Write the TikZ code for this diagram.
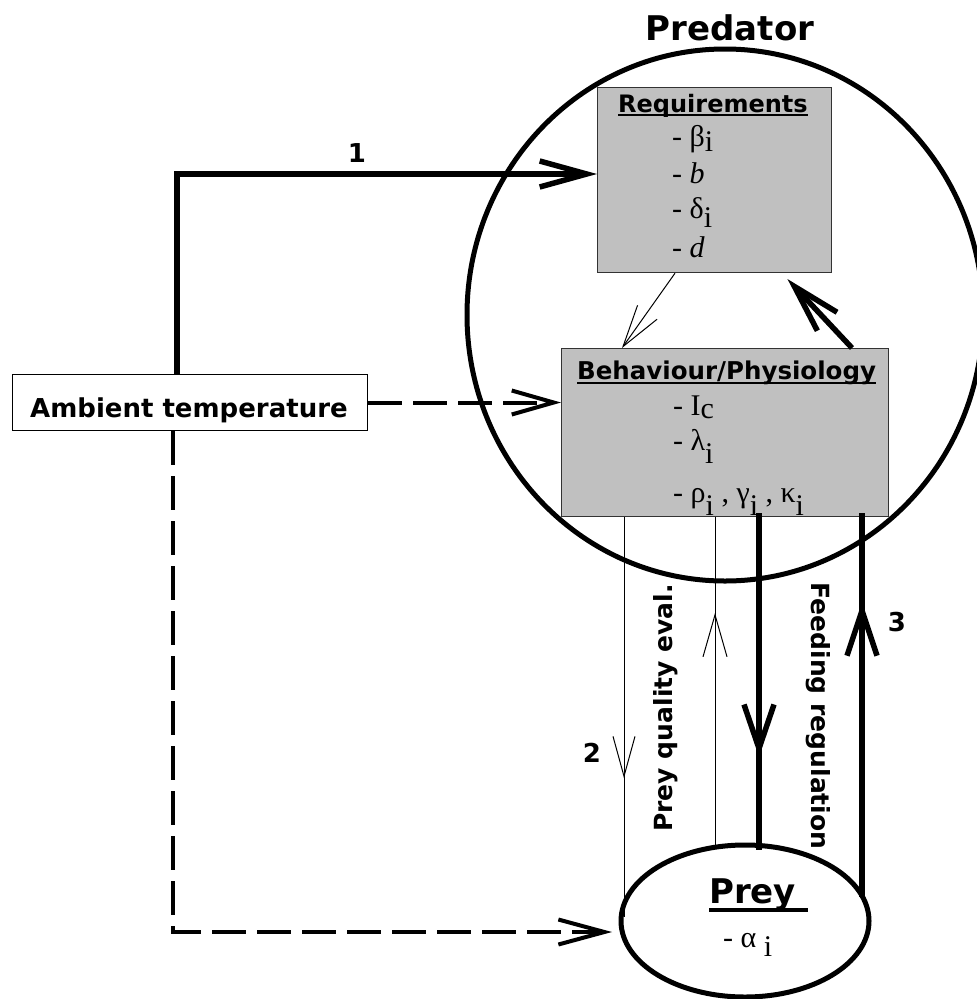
\documentclass[tikz,border=0pt]{standalone}
\usepackage{fontspec}
\setmainfont{Liberation Serif}
\newfontfamily\hdfont{DejaVu Sans}
\newfontfamily\itemfont{Liberation Serif}
\usetikzlibrary{arrows.meta,shapes.geometric,decorations.markings}
\definecolor{panelgray}{HTML}{C0C0C0}

% bold sans heading text at a given size
\newcommand\hd[2]{{\fontsize{#1}{#1}\hdfont\bfseries #2}}
% serif list entry
\newcommand\entry[1]{{\itemfont\fontsize{30}{30}\selectfont #1}}
% lowered index letter
\newcommand\lowered[2]{\raisebox{-#1pt}{#2}}
% underline: #1 offset of rule bottom below baseline, #2 rule thickness, #3 text
\newcommand\undl[3]{\setbox0=\hbox{#3}\rlap{\rule[-#1]{\wd0}{#2}}\box0}

\tikzset{
  thickline/.style={line width=5.5pt},
  dashline/.style={line width=4pt, dash pattern=on 34pt off 11pt},
  thinline/.style={line width=1pt},
  panel/.style={draw=black!80, line width=1.2pt, fill=panelgray, inner sep=0pt, anchor=north west},
  item/.style={anchor=base west, inner sep=0pt},
  lbl/.style={inner sep=0pt},
  midarrow/.style args={#1 at #2}{postaction={decorate}, decoration={markings, mark=at position #2 with {\arrow{#1}}}}
}

\begin{document}
\begin{tikzpicture}[x=1pt, y=-1pt]
  \useasboundingbox (0,0) rectangle (977,999);

  % predator outline and title
  \node[draw, ellipse, line width=5pt, minimum width=516pt, minimum height=532pt, inner sep=0pt] (pred) at (725,315) {};
  \node[anchor=base, lbl] (predT) at (730,40) {\hd{34}{Predator}};

  % requirements panel
  \node[panel, minimum width=234pt, minimum height=185pt] (req) at (597,87) {};
  \node[anchor=base west, lbl] (reqT) at (618,112) {\hd{24}{\undl{4.2pt}{2.5pt}{Requirements}}};
  \node[item] (r1) at (672,146) {\entry{- β\lowered{5}{i}}};
  \node[item] (r2) at (672,183) {\entry{- \textit{b}}};
  \node[item] (r3) at (672,218) {\entry{- δ\lowered{9}{i}}};
  \node[item] (r4) at (672,257) {\entry{- \textit{d}}};

  % behaviour / physiology panel
  \node[panel, minimum width=327pt, minimum height=168pt] (beh) at (561,348) {};
  \node[anchor=base west, lbl] (behT) at (577,379) {\hd{24.5}{\undl{5.2pt}{2.5pt}{Behaviour/Physiology}}};
  \node[item] (b1) at (673,415) {\entry{- I\lowered{3}{c}}};
  \node[item] (b2) at (673,450) {\entry{- λ\lowered{13}{i}}};
  \node[item] (b3) at (673,502) {\entry{- ρ\lowered{13}{i} ,\ γ\lowered{13}{i} , κ\lowered{13}{i}}};

  % ambient temperature box
  \node[draw, line width=1pt, fill=white, anchor=north west, minimum width=355pt, minimum height=56pt, inner sep=0pt] (amb) at (12,374) {};
  \node[anchor=base west, lbl] (ambT) at (30,417) {\hd{26}{Ambient temperature}};

  % prey
  \node[draw, ellipse, line width=5pt, minimum width=248pt, minimum height=152pt, inner sep=0pt] (prey) at (745,921) {};
  \node[anchor=base west, lbl] (preyT) at (709,903) {\hd{34}{\undl{9pt}{4pt}{Prey\ }}};
  \node[item] (p1) at (723,947) {\entry{- α \lowered{9}{i}}};

  % connector end points on the prey outline
  \coordinate (pA) at (624,917);
  \coordinate (pB) at (715,848);
  \coordinate (pC) at (759,850);
  \coordinate (pD) at (862,897);
  \coordinate (pE) at (612,932);

  % 1: temperature -> requirements
  \draw[thickline, -{Straight Barb[length=47pt,width=26pt]}] (amb.north -| 177,0) |- (req.west |- 0,174);
  \node[lbl] (n1) at (357,153) {\hd{26}{1}};

  % temperature -> behaviour, temperature -> prey
  \draw[dashline, -{Straight Barb[length=42pt,width=24pt]}] (amb.east) -- (beh.west |- amb.east);
  \draw[dashline, -{Straight Barb[length=46pt,width=25pt]}] (amb.south -| 173,0) |- (pE);

  % requirements <-> behaviour
  \draw[thinline, -{Straight Barb[length=42pt,width=24pt]}] (req.south -| 675,0) -- (beh.north -| 622,0);
  \draw[thickline, shorten >=8pt, -{Straight Barb[length=48pt,width=27pt]}] (beh.north -| 852,0) -- (req.south -| 782,0);

  % 2: prey quality evaluation
  \draw[thinline, midarrow={Straight Barb[length=40pt,width=22pt]} at 261pt] (beh.south -| 624,0) -- (pA);
  \draw[thinline, midarrow={Straight Barb[length=42pt,width=24pt]} at 235pt] (pB) -- (beh.south -| 715,0);
  \node[lbl] (n2) at (592,753) {\hd{26}{2}};
  \node[lbl, rotate=90] (pq) at (666,708) {\hd{25}{Prey quality eval.}};

  % 3: feeding regulation
  \draw[thickline, midarrow={Straight Barb[length=44pt,width=30pt]} at 244pt] (759,513) -- (pC);
  \draw[thickline, midarrow={Straight Barb[length=45pt,width=30pt]} at 295pt] (pD) -- (862,513);
  \node[lbl] (n3) at (897,622) {\hd{26}{3}};
  \node[lbl, rotate=-90] (fr) at (818,716) {\hd{25}{Feeding regulation}};
\end{tikzpicture}
\end{document}
